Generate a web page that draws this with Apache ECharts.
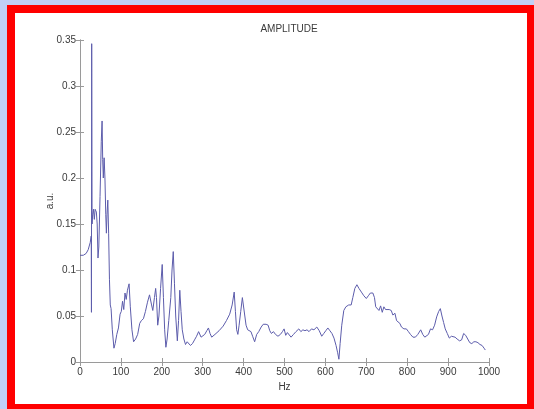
<!DOCTYPE html>
<html>
<head>
<meta charset="utf-8">
<script src="https://cdn.jsdelivr.net/npm/echarts@6/dist/echarts.min.js"></script>
<style>
  html, body { margin:0; padding:0; width:534px; height:409px; overflow:hidden; background:#c1d0f7; }
  #frame { position:absolute; left:7px; top:5px; width:512px; height:391px; border:8px solid #ff0000; background:#ffffff; }
  #chart { position:absolute; left:0; top:0; width:534px; height:409px; }
</style>
</head>
<body>
<div id="frame"></div>
<div id="chart"></div>
<script>
const chartTitle = 'AMPLITUDE';
const xName = 'Hz';
const yName = 'a.u.';
const xTicks = [0, 100, 200, 300, 400, 500, 600, 700, 800, 900, 1000];
const yTicks = [0, 0.05, 0.1, 0.15, 0.2, 0.25, 0.3, 0.35];

const freq = [
  0, 8, 15, 20, 25, 27.5, 28, 28.6, 29.5, 31, 33, 35, 37, 40, 42, 44, 46, 49, 52, 54,
  55.5, 57, 59, 61, 63, 64.5, 66, 68, 70, 72, 74, 76, 79, 83, 86, 90, 94, 98, 101, 104,
  107, 110, 113, 116, 120, 123, 127, 131, 136, 141, 146, 150, 155, 160, 165, 170, 175, 178, 182, 185,
  187, 190, 193, 197, 201, 204, 207, 210, 213, 217, 222, 225, 228, 231, 234, 238, 241, 244, 247, 250,
  254, 258, 262, 266, 270, 275, 280, 285, 290, 292, 296, 300, 305, 310, 314, 318, 322, 330, 340, 350,
  358, 366, 372, 377, 380, 383, 386, 389, 393, 397, 400, 403, 406, 410, 414, 418, 422, 427, 432, 437,
  443, 448, 455, 460, 464, 468, 473, 478, 484, 490, 495, 499, 503, 507, 511, 516, 522, 528, 535, 540,
  545, 550, 555, 560, 566, 572, 579, 585, 591, 596, 601, 606, 611, 616, 621, 626, 630, 633, 636, 640,
  645, 650, 657, 663, 667, 672, 677, 682, 688, 694, 700, 705, 710, 716, 720, 723, 727, 731, 735, 739,
  743, 747, 751, 756, 761, 765, 770, 774, 778, 782, 786, 792, 798, 803, 808, 814, 820, 826, 833, 838,
  843, 847, 852, 857, 862, 867, 872, 877, 881, 885, 889, 893, 898, 903, 908, 912, 917, 922, 928, 933,
  938, 943, 948, 953, 958, 963, 968, 973, 978, 983, 988, 991
];
const amp = [
  0.116, 0.116, 0.118, 0.122, 0.130, 0.137, 0.054, 0.346, 0.150, 0.160, 0.166, 0.155, 0.166, 0.163, 0.150, 0.113, 0.125, 0.180, 0.240, 0.262,
  0.220, 0.200, 0.222, 0.200, 0.160, 0.140, 0.160, 0.176, 0.140, 0.090, 0.062, 0.058, 0.035, 0.015, 0.020, 0.030, 0.037, 0.052, 0.055, 0.066,
  0.057, 0.075, 0.068, 0.078, 0.085, 0.060, 0.035, 0.022, 0.025, 0.030, 0.042, 0.045, 0.047, 0.055, 0.065, 0.073, 0.062, 0.056, 0.070, 0.080,
  0.070, 0.040, 0.050, 0.080, 0.106, 0.070, 0.035, 0.016, 0.025, 0.045, 0.070, 0.100, 0.120, 0.085, 0.050, 0.023, 0.045, 0.078, 0.055, 0.035,
  0.025, 0.019, 0.022, 0.021, 0.018, 0.020, 0.024, 0.028, 0.033, 0.035, 0.027, 0.026, 0.030, 0.034, 0.037, 0.031, 0.027, 0.030, 0.034, 0.039,
  0.045, 0.052, 0.062, 0.076, 0.055, 0.035, 0.030, 0.040, 0.055, 0.070, 0.068, 0.050, 0.040, 0.035, 0.037, 0.033, 0.028, 0.022, 0.030, 0.033,
  0.038, 0.041, 0.041, 0.040, 0.034, 0.031, 0.033, 0.030, 0.028, 0.030, 0.033, 0.036, 0.029, 0.032, 0.031, 0.027, 0.030, 0.033, 0.036, 0.033,
  0.035, 0.034, 0.035, 0.033, 0.036, 0.035, 0.038, 0.034, 0.028, 0.031, 0.034, 0.037, 0.034, 0.031, 0.026, 0.018, 0.010, 0.003, 0.020, 0.040,
  0.056, 0.060, 0.062, 0.062, 0.070, 0.080, 0.084, 0.080, 0.076, 0.072, 0.069, 0.072, 0.075, 0.075, 0.070, 0.060, 0.062, 0.056, 0.061, 0.054,
  0.060, 0.057, 0.055, 0.057, 0.056, 0.051, 0.053, 0.045, 0.047, 0.042, 0.038, 0.036, 0.036, 0.033, 0.030, 0.027, 0.027, 0.030, 0.035, 0.030,
  0.027, 0.025, 0.030, 0.036, 0.035, 0.040, 0.049, 0.055, 0.058, 0.050, 0.043, 0.036, 0.031, 0.026, 0.028, 0.030, 0.027, 0.025, 0.023, 0.024,
  0.031, 0.029, 0.025, 0.021, 0.020, 0.022, 0.022, 0.021, 0.019, 0.018, 0.015, 0.013
];

const points = freq.map((f, i) => [f, amp[i]]);
const font = 'Liberation Sans, Arial, sans-serif';
const axisGray = '#9a9a9a';
const textGray = '#3a3a3a';

const chart = echarts.init(document.getElementById('chart'), null, { renderer: 'canvas' });
const tickStyle = { show: true, inside: true, length: 4, lineStyle: { color: axisGray, width: 1 } };
const lineStyle = { show: true, lineStyle: { color: axisGray, width: 1 } };

chart.setOption({
  animation: false,
  backgroundColor: 'transparent',
  title: {
    text: chartTitle,
    left: 284,
    top: 19,
    textAlign: 'center',
    textStyle: { fontFamily: font, fontSize: 10, fontWeight: 'normal', color: textGray }
  },
  grid: { left: 80, right: 45, top: 40, bottom: 47, containLabel: false },
  xAxis: [
    {
      type: 'value', min: xTicks[0], max: xTicks[xTicks.length - 1], interval: 100,
      name: xName, nameLocation: 'middle', nameGap: 16,
      nameTextStyle: { fontFamily: font, fontSize: 10, color: textGray },
      axisLine: lineStyle, axisTick: tickStyle, splitLine: { show: false },
      axisLabel: { fontFamily: font, fontSize: 10, color: textGray, margin: 5,
        formatter: v => String(v) }
    },
    {
      type: 'value', position: 'top', min: xTicks[0], max: xTicks[xTicks.length - 1], interval: 100,
      axisLine: lineStyle, axisTick: tickStyle, splitLine: { show: false },
      axisLabel: { show: false }
    }
  ],
  yAxis: [
    {
      type: 'value', min: yTicks[0], max: yTicks[yTicks.length - 1], interval: 0.05,
      name: yName, nameLocation: 'middle', nameGap: 25, nameRotate: 90, nameMoveOverlap: false,
      nameTextStyle: { fontFamily: font, fontSize: 10, color: textGray },
      axisLine: lineStyle, axisTick: tickStyle, splitLine: { show: false },
      axisLabel: { fontFamily: font, fontSize: 10, color: textGray, margin: 4,
        formatter: v => String(+v.toFixed(2)) }
    },
    {
      type: 'value', position: 'right', min: yTicks[0], max: yTicks[yTicks.length - 1], interval: 0.05,
      axisLine: lineStyle, axisTick: tickStyle, splitLine: { show: false },
      axisLabel: { show: false }
    }
  ],
  series: [{
    type: 'line',
    data: points,
    showSymbol: false,
    smooth: false,
    lineStyle: { color: '#5c5cab', width: 1 },
    itemStyle: { color: '#5c5cab' }
  }]
});
</script>
</body>
</html>
